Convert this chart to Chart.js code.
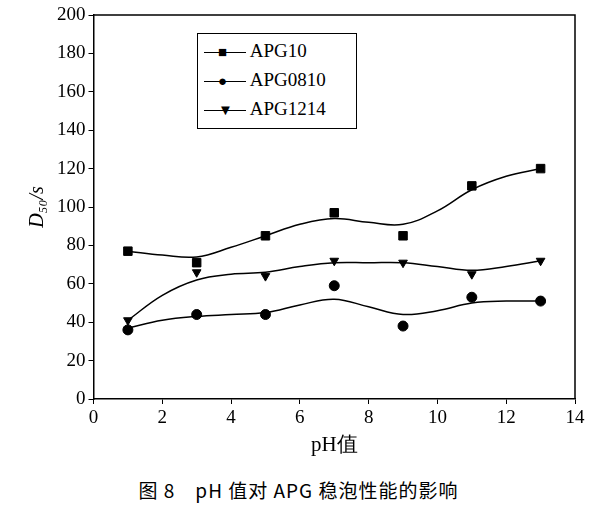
<!DOCTYPE html>
<html><head><meta charset="utf-8">
<script src="https://cdn.jsdelivr.net/npm/chart.js@4.4.0/dist/chart.umd.min.js"></script>
<style>
body{margin:0;background:#fff;font-family:"Liberation Serif","Noto Sans CJK SC",serif;}
#wrap{position:relative;width:597px;height:509px;}
#legend{position:absolute;left:197px;top:33px;width:158px;height:94px;border:1.5px solid #000;background:#fff;font-size:19px;}
.row{position:absolute;left:6px;height:22px;line-height:22px;}
.ln{display:inline-block;width:42px;border-top:1.5px solid #000;vertical-align:middle;position:relative;}
.sym{position:absolute;left:14px;top:-9px;font-size:15px;line-height:16px;}
#cap{position:absolute;left:0;width:597px;top:476px;text-align:center;font-size:19px;letter-spacing:1px;font-family:"Noto Sans CJK SC","Liberation Serif",serif;}
</style></head><body>
<div id="wrap">
<canvas id="c" width="597" height="458" style="position:absolute;left:0;top:0"></canvas>
<div id="legend">
<div class="row" style="top:6px"><span class="ln"><span class="sym">■</span></span> APG10</div>
<div class="row" style="top:35px"><span class="ln"><span class="sym">●</span></span> APG0810</div>
<div class="row" style="top:64px"><span class="ln"><span class="sym">▼</span></span> APG1214</div>
</div>
<div id="cap">图 8　pH 值对 APG 稳泡性能的影响</div>
</div>
<script>
const phPoints = [1, 3, 5, 7, 9, 11, 13];
const apg10 = [77, 71, 85, 97, 85, 111, 120];
const apg0810 = [36, 44, 44, 59, 38, 53, 51];
const apg1214 = [41, 66, 64, 72, 71, 65, 72];

const phCurve = [1, 2, 3, 4, 5, 6, 7, 8, 9, 10, 11, 12, 13];
const fit10 = [77, 75, 74, 79, 85, 91, 94, 92, 91, 98, 109, 116, 120];
const fit0810 = [37, 41, 43, 44, 45, 49, 52, 48, 44, 46, 50, 51, 51];
const fit1214 = [41, 54, 62, 65, 66, 69, 71, 71, 71, 69, 67, 69, 72];

const pts = (xs, ys) => xs.map((x, i) => ({x: x, y: ys[i]}));
const curve = ys => ({data: pts(phCurve, ys), showLine: true, tension: 0.4, borderColor: "#000", borderWidth: 1.5, pointRadius: 0});
const marks = (ys, style) => ({data: pts(phPoints, ys), showLine: false, pointStyle: style, pointRadius: style === "rect" ? 6 : 5, backgroundColor: "#000", borderColor: "#000", rotation: style === "triangle" ? 180 : 0});

new Chart(document.getElementById("c"), {
  type: "scatter",
  data: {datasets: [
    curve(fit10), curve(fit0810), curve(fit1214),
    marks(apg10, "rect"), marks(apg0810, "circle"), marks(apg1214, "triangle")
  ]},
  options: {
    responsive: false, animation: false,
    layout: {padding: {top: 15, right: 22, left: 22, bottom: 0}},
    plugins: {legend: {display: false}, tooltip: {enabled: false}},
    scales: {
      x: {min: 0, max: 14, border: {color: "#000", width: 1.5},
        ticks: {stepSize: 2, color: "#000", font: {size: 19, family: "Liberation Serif"}},
        grid: {drawOnChartArea: false, color: "#000", tickLength: 5},
        title: {display: true, text: "pH值", color: "#000", font: {size: 21, family: "Liberation Serif"}, padding: 0}},
      y: {min: 0, max: 200, border: {color: "#000", width: 1.5},
        ticks: {stepSize: 20, color: "#000", font: {size: 19, family: "Liberation Serif"}},
        grid: {drawOnChartArea: false, color: "#000", tickLength: 5},
        title: {display: true, text: "D₅₀/s", color: "#000", font: {size: 20, family: "Liberation Serif", style: "italic"}}}
    }
  },
  plugins: [{id: "frame", afterDraw(ch) {
    const a = ch.chartArea, g = ch.ctx;
    g.save(); g.strokeStyle = "#000"; g.lineWidth = 1.5;
    g.beginPath(); g.moveTo(a.left, a.top); g.lineTo(a.right, a.top); g.lineTo(a.right, a.bottom); g.stroke();
    g.restore();
  }}]
});
</script>
</body></html>
